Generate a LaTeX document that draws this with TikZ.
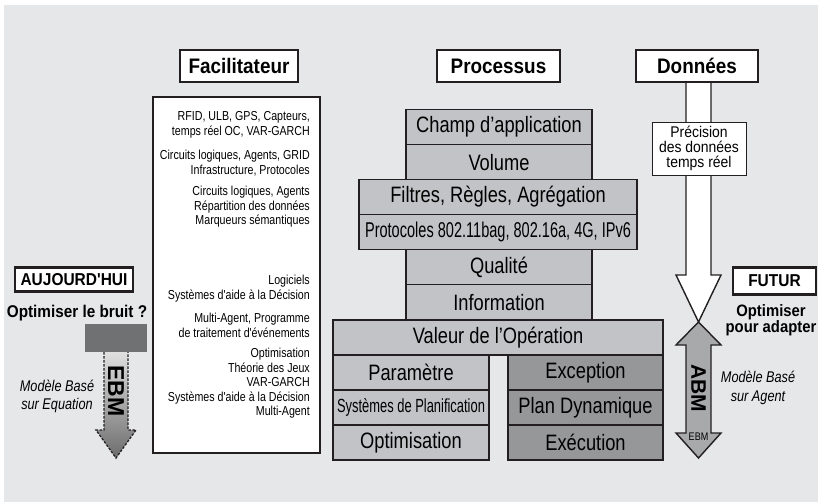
\documentclass[tikz,border=0pt]{standalone}
\usepackage{fontspec}
\setmainfont{Liberation Sans}[FakeStretch=0.82,Ligatures=TeXOff]
\newfontfamily\widefont{Liberation Sans}[FakeStretch=0.9,Ligatures=TeXOff]
\newfontfamily\narrowfont{Liberation Sans}[FakeStretch=0.68,Ligatures=TeXOff]
\newfontfamily\plainfont{Liberation Sans}[Ligatures=TeXOff]
\usetikzlibrary{positioning,calc}
\definecolor{pagegray}{RGB}{230,231,232}
\definecolor{boxlight}{RGB}{194,195,198}
\definecolor{boxdark}{RGB}{150,151,153}
\definecolor{arrowgray}{RGB}{168,169,171}
\definecolor{blockgray}{RGB}{112,113,115}
\definecolor{inkline}{RGB}{35,31,32}

\begin{document}
\begin{tikzpicture}[x=1pt,y=-1pt,
  procbox/.style={draw=inkline,line width=1.4pt,fill=boxlight,minimum height=35pt,inner sep=0pt,font=\fontsize{22.3}{26}\selectfont},
  procdark/.style={procbox,fill=boxdark},
  headbox/.style={draw=inkline,line width=2.2pt,fill=white,minimum height=32pt,inner sep=0pt,font=\widefont\bfseries\fontsize{21}{25}\selectfont},
  factext/.style={anchor=east,align=right,inner sep=0pt,font=\fontsize{13}{14.5}\selectfont},
  goaltext/.style={inner sep=0pt,align=center,font=\widefont\bfseries\fontsize{17}{15.5}\selectfont},
  notetext/.style={inner sep=0pt,align=center,font=\itshape\fontsize{15.5}{19}\selectfont}]
\useasboundingbox (0,0) rectangle (818,502);
\fill[pagegray] (4,5) rectangle (818,502);

% LEFT: today, equation based model
\node[headbox,minimum width=118pt,minimum height=24pt,font=\widefont\bfseries\fontsize{17.2}{20}\selectfont] (today) at (74,279.5) {AUJOURD'HUI};
\node[goaltext] (todaygoal) at (77,313) {Optimiser le bruit ?};
\node[fill=blockgray,minimum width=62pt,minimum height=28pt,inner sep=0pt] (ebmblock) at (116,338) {};
\coordinate (ebmtip) at (116,458);
\path[top color=gray!25,bottom color=gray!85!black,draw=inkline,line width=1.3pt,dash pattern=on 2.5pt off 1.5pt,line join=miter]
  (104,352) -- (104,430) -- (96,430) -- (ebmtip) -- (136,430) -- (128,430) -- (128,352);
\node[rotate=-90,inner sep=0pt,font=\plainfont\bfseries\fontsize{23}{25}\selectfont] (ebmlabel) at (116,391) {EBM};
\node[notetext,font=\itshape\fontsize{15.5}{18}\selectfont] (ebmnote) at (57,396) {Modèle Basé\\sur Equation};

% MIDDLE-LEFT: facilitateur column
\node[draw=inkline,line width=1.4pt,fill=white,minimum width=167pt,minimum height=356pt,inner sep=0pt] (facbody) at (236.5,275) {};
\node[factext] (fac1) at (310,125) {RFID, ULB, GPS, Capteurs,\\temps réel OC, VAR-GARCH};
\node[factext] (fac2) at (310,163) {Circuits logiques, Agents, GRID\\Infrastructure, Protocoles};
\node[factext] (fac3) at (310,207) {Circuits logiques, Agents\\Répartition des données\\Marqueurs sémantiques};
\node[factext] (fac4) at (310,288.5) {Logiciels\\Systèmes d'aide à la Décision};
\node[factext] (fac5) at (310,325.5) {Multi-Agent, Programme\\de traitement d'événements};
\node[factext] (fac6) at (310,383.5) {Optimisation\\Théorie des Jeux\\VAR-GARCH\\Systèmes d'aide à la Décision\\Multi-Agent};
\node[headbox,minimum width=118pt] (fachead) at (239,66) {Facilitateur};

% MIDDLE: process stack
\foreach \name/\row/\txt in {champ/0/Champ d’application, volume/1/Volume, qualite/4/Qualité, info/5/Information} {
  \node[procbox,minimum width=186pt] (\name) at (499,{127+35.05*\row}) {\txt};
}
\node[procbox,minimum width=278pt] (filtres) at (498,197.1) {Filtres, Règles, Agrégation};
\node[procbox,minimum width=278pt,font=\narrowfont\fontsize{21.4}{24}\selectfont] (proto) at (498,232.2) {Protocoles 802.11bag, 802.16a, 4G, IPv6};
\node[procbox,minimum width=330pt] (valeur) at (498,337.3) {Valeur de l’Opération};
% two columns under the value
\node[procbox,minimum width=156pt] (param) at (411,372.4) {Paramètre};
\node[procbox,minimum width=156pt,font=\narrowfont\fontsize{19}{22}\selectfont] (planif) at (411,407.4) {Systèmes de Planification};
\node[procbox,minimum width=156pt] (optim) at (411,442.5) {Optimisation};
\node[procdark,minimum width=155pt] (except) at (585.5,372.4) {Exception};
\node[procdark,minimum width=155pt] (plandyn) at (585.5,407.4) {Plan Dynamique};
\node[procdark,minimum width=155pt] (exec) at (585.5,442.5) {Exécution};
\node[headbox,minimum width=123pt] (prochead) at (498.5,66) {Processus};

% RIGHT: data arrow, agent based model
\coordinate (dtip) at (698.5,322);
\draw[draw=inkline,line width=1.4pt,fill=white,line join=miter]
  (686,82) -- (686,275) -- (676,275) -- (dtip) -- (721,275) -- (711,275) -- (711,82);
\node[draw=inkline,line width=0.8pt,fill=white,minimum width=94pt,minimum height=53pt,inner sep=0pt,align=center,font=\widefont\fontsize{15.5}{15}\selectfont] (precision) at (699,148.5) {Précision\\des données\\temps réel};
\node[headbox,minimum width=122pt] (datahead) at (697,66) {Données};
\draw[draw=inkline,line width=1.4pt,fill=arrowgray,line join=miter]
  (dtip) -- (721,345) -- (711,345) -- (711,433) -- (721,433) -- (698.5,458)
  -- (676,433) -- (686,433) -- (686,345) -- (676,345) -- cycle;
\node[rotate=-90,inner sep=0pt,font=\plainfont\bfseries\fontsize{21}{23}\selectfont] (abmlabel) at (698.5,388) {ABM};
\node[inner sep=0pt,font=\fontsize{11}{12}\selectfont] (abmsmall) at (698.5,437) {EBM};
\node[headbox,minimum width=83pt,minimum height=27pt,font=\widefont\bfseries\fontsize{17.2}{20}\selectfont] (future) at (774.5,281) {FUTUR};
\node[goaltext,font=\widefont\bfseries\fontsize{16.5}{15.5}\selectfont] (futuregoal) at (771,320) {Optimiser\\pour adapter};
\node[notetext] (abmnote) at (758,388) {Modèle Basé\\sur Agent};
\end{tikzpicture}
\end{document}
